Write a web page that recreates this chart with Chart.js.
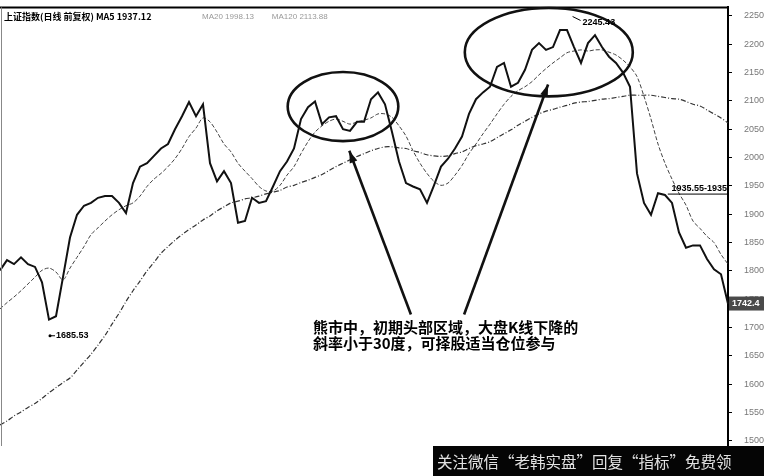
<!DOCTYPE html>
<html>
<head>
<meta charset="utf-8">
<style>
  html, body { margin: 0; padding: 0; background: #fff; }
  #wrap { width: 764px; height: 476px; }
</style>
<script src="https://cdn.jsdelivr.net/npm/chart.js@4/dist/chart.umd.min.js"></script>
</head>
<body>
<div id="wrap"><canvas id="kChart" width="764" height="476"></canvas></div>
<script>
// daily close of the index left to right
const closes = [
    1801, 1819, 1812, 1824, 1812, 1807, 1780, 1714, 1720, 1789,
    1859, 1899, 1915, 1920, 1929, 1932, 1932, 1920, 1902, 1955,
    1984, 1990, 2003, 2016, 2024, 2050, 2073, 2098, 2073, 2094,
    1990, 1958, 1976, 1955, 1885, 1888, 1929, 1920, 1923, 1949,
    1976, 1993, 2016, 2068, 2089, 2099, 2059, 2071, 2073, 2050,
    2047, 2063, 2063, 2103, 2115, 2094, 2045, 1993, 1955, 1949,
    1944, 1920, 1951, 1984, 1998, 2016, 2037, 2077, 2103, 2115,
    2125, 2160, 2167, 2125, 2132, 2155, 2190, 2202, 2190, 2195,
    2225, 2225, 2195, 2167, 2202, 2216, 2195, 2178, 2167, 2150,
    2125, 1972, 1920, 1899, 1937, 1934, 1920, 1868, 1841, 1845,
    1845, 1821, 1803, 1794, 1742
];
const ma20 = [
    1733, 1744, 1754, 1765, 1777, 1789, 1801, 1805, 1798, 1784,
    1805, 1824, 1843, 1864, 1876, 1888, 1899, 1908, 1915, 1920,
    1932, 1949, 1962, 1972, 1984, 1998, 2016, 2037, 2052, 2070,
    2063, 2045, 2024, 2010, 1990, 1976, 1963, 1949, 1941, 1941,
    1951, 1969, 1984, 2007, 2028, 2045, 2056, 2064, 2068, 2064,
    2059, 2063, 2066, 2070, 2077, 2077, 2071, 2056, 2038, 2012,
    1990, 1972, 1958, 1951, 1955, 1969, 1986, 2007, 2024, 2042,
    2059, 2077, 2094, 2108, 2118, 2125, 2134, 2146, 2157, 2167,
    2176, 2185, 2188, 2190, 2188, 2190, 2190, 2186, 2181, 2172,
    2160, 2143, 2108, 2068, 2024, 1990, 1962, 1937, 1916, 1888,
    1875, 1861, 1850, 1829, 1812
];
const ma120 = [
    1528, 1535, 1544, 1551, 1559, 1566, 1575, 1585, 1594, 1603,
    1611, 1625, 1639, 1653, 1669, 1686, 1706, 1725, 1746, 1765,
    1782, 1800, 1815, 1831, 1843, 1854, 1864, 1873, 1881, 1890,
    1897, 1906, 1913, 1920, 1923, 1927, 1929, 1932, 1936, 1939,
    1942, 1948, 1951, 1956, 1960, 1965, 1970, 1977, 1984, 1990,
    1996, 2002, 2007, 2012, 2016, 2019, 2019, 2017, 2016, 2012,
    2009, 2005, 2003, 2002, 2003, 2007, 2010, 2016, 2021, 2024,
    2028, 2035, 2042, 2049, 2057, 2064, 2071, 2077, 2082, 2085,
    2089, 2092, 2096, 2098, 2099, 2101, 2103, 2104, 2106, 2108,
    2110, 2110, 2110, 2110, 2108, 2106, 2104, 2103, 2099, 2094,
    2091, 2084, 2077, 2070, 2061
];
const yTicks = [1500, 1550, 1600, 1650, 1700, 1750, 1800, 1850, 1900, 1950, 2000, 2050, 2100, 2150, 2200, 2250];

const lowMark = 1685.53;
const highMark = 2245.43;
const levelMark = 1935.55;
const lastPrice = 1742.4;

const headerMain = '上证指数(日线 前复权) MA5 1937.12';
const headerMa = 'MA20 1998.13        MA120 2113.88';
const noteLines = ['熊市中，初期头部区域，大盘K线下降的', '斜率小于30度，可择股适当仓位参与'];
const watermark = '关注微信“老韩实盘”回复“指标”免费领';

// circled head areas and arrows, in (day index, price) units
const rings = [
    { i: 49, v: 2090, ri: 7.9, rv: 61 },
    { i: 78.4, v: 2186, ri: 12, rv: 78 }
];
const pointers = [
    { from: [58.7, 1723], to: [49.9, 2012] },
    { from: [66.3, 1723], to: [78.3, 2129] }
];
const noteAt = [44.7, 1700];

const labels = closes.map((c, i) => i);

function arrow(ctx, x1, y1, x2, y2) {
    ctx.beginPath();
    ctx.moveTo(x1, y1);
    ctx.lineTo(x2, y2);
    ctx.stroke();
    const a = Math.atan2(y2 - y1, x2 - x1);
    ctx.beginPath();
    ctx.moveTo(x2, y2);
    ctx.lineTo(x2 - 12 * Math.cos(a) + 4 * Math.sin(a), y2 - 12 * Math.sin(a) - 4 * Math.cos(a));
    ctx.lineTo(x2 - 12 * Math.cos(a) - 4 * Math.sin(a), y2 - 12 * Math.sin(a) + 4 * Math.cos(a));
    ctx.closePath();
    ctx.fill();
}

const marks = {
    id: 'marks',
    afterDraw(chart) {
        const ctx = chart.ctx;
        const xs = chart.scales.x, ys = chart.scales.y;
        const area = chart.chartArea;
        ctx.save();

        // frame
        ctx.strokeStyle = '#000';
        ctx.lineWidth = 2;
        ctx.beginPath();
        ctx.moveTo(0, area.top);
        ctx.lineTo(area.right, area.top);
        ctx.stroke();
        ctx.lineWidth = 1;
        ctx.strokeStyle = '#888';
        ctx.beginPath();
        ctx.moveTo(1.5, area.top);
        ctx.lineTo(1.5, area.bottom);
        ctx.stroke();

        // header
        ctx.textBaseline = 'middle';
        ctx.textAlign = 'left';
        ctx.fillStyle = '#000';
        ctx.font = 'bold 9px "Noto Sans CJK SC", sans-serif';
        ctx.fillText(headerMain, 4, area.top + 9);
        ctx.fillStyle = '#999';
        ctx.font = '8px "Liberation Sans", sans-serif';
        ctx.fillText(headerMa, 202, area.top + 9);

        // rings and arrows
        ctx.strokeStyle = '#111';
        ctx.fillStyle = '#111';
        ctx.lineWidth = 2.6;
        rings.forEach(r => {
            const cx = xs.getPixelForValue(r.i), cy = ys.getPixelForValue(r.v);
            const rx = xs.getPixelForValue(r.i + r.ri) - cx;
            const ry = cy - ys.getPixelForValue(r.v + r.rv);
            ctx.beginPath();
            ctx.ellipse(cx, cy, rx, ry, 0, 0, Math.PI * 2);
            ctx.stroke();
        });
        pointers.forEach(p => {
            arrow(ctx,
                xs.getPixelForValue(p.from[0]), ys.getPixelForValue(p.from[1]),
                xs.getPixelForValue(p.to[0]), ys.getPixelForValue(p.to[1]));
        });

        // note text
        ctx.fillStyle = '#000';
        ctx.font = 'bold 15px "Noto Sans CJK SC", sans-serif';
        const nx = xs.getPixelForValue(noteAt[0]), ny = ys.getPixelForValue(noteAt[1]);
        noteLines.forEach((t, k) => ctx.fillText(t, nx, ny + k * 16));

        // low / high / level labels
        ctx.font = 'bold 9px "Liberation Sans", sans-serif';
        ctx.lineWidth = 1;
        ctx.strokeStyle = '#000';
        const lowI = closes.indexOf(Math.min(...closes));
        const lx = xs.getPixelForValue(lowI), ly = ys.getPixelForValue(lowMark);
        ctx.beginPath();
        ctx.arc(lx + 1, ly, 1.5, 0, Math.PI * 2);
        ctx.fill();
        ctx.beginPath();
        ctx.moveTo(lx + 1, ly);
        ctx.lineTo(lx + 6, ly);
        ctx.stroke();
        ctx.fillText(lowMark.toFixed(2), lx + 7, ly);

        const highI = closes.indexOf(Math.max(...closes));
        const hx = xs.getPixelForValue(highI + 1.8), hy = ys.getPixelForValue(highMark);
        ctx.beginPath();
        ctx.moveTo(hx, hy - 2);
        ctx.lineTo(hx + 8, hy + 2);
        ctx.stroke();
        ctx.fillText(highMark.toFixed(2), hx + 10, hy + 4);

        const gy = ys.getPixelForValue(levelMark);
        ctx.beginPath();
        ctx.moveTo(xs.getPixelForValue(95.4), gy);
        ctx.lineTo(area.right, gy);
        ctx.stroke();
        ctx.textAlign = 'right';
        ctx.font = 'bold 9px "Liberation Sans Narrow", "Liberation Sans", sans-serif';
        ctx.fillText(levelMark.toFixed(2) + '-1935', area.right - 1, gy - 6);

        // last price box on the axis
        const py = ys.getPixelForValue(lastPrice);
        ctx.fillStyle = '#4a4a4a';
        ctx.fillRect(area.right + 1, py - 7, chart.width - area.right - 1, 14);
        ctx.fillStyle = '#fff';
        ctx.textAlign = 'left';
        ctx.font = 'bold 9px "Liberation Sans", sans-serif';
        ctx.fillText(lastPrice.toFixed(1), area.right + 4, py);

        // watermark band
        ctx.fillStyle = '#050505';
        ctx.fillRect(433, area.bottom, chart.width - 433, chart.height - area.bottom);
        ctx.fillStyle = '#e2e2e2';
        ctx.font = '15.5px "Noto Sans CJK SC", sans-serif';
        ctx.fillText(watermark, 437, area.bottom + 16);

        ctx.restore();
    }
};

const ctx = document.getElementById('kChart').getContext('2d');
const kChart = new Chart(ctx, {
    type: 'line',
    data: {
        labels: labels,
        datasets: [{
            label: 'close',
            data: closes,
            borderColor: '#111',
            borderWidth: 2,
            pointRadius: 0,
            tension: 0
        }, {
            label: 'MA20',
            data: ma20,
            borderColor: '#444',
            borderWidth: 1,
            borderDash: [4, 2],
            pointRadius: 0,
            tension: 0.3
        }, {
            label: 'MA120',
            data: ma120,
            borderColor: '#333',
            borderWidth: 1.2,
            borderDash: [5, 2, 1, 2],
            pointRadius: 0,
            tension: 0.3
        }]
    },
    options: {
        responsive: false,
        animation: false,
        devicePixelRatio: 1,
        layout: { padding: { top: 2, bottom: 30, left: 0, right: 0 } },
        plugins: {
            legend: { display: false },
            tooltip: { enabled: false }
        },
        scales: {
            x: {
                type: 'category',
                display: false,
                offset: false
            },
            y: {
                position: 'right',
                min: 1491,
                max: 2265,
                afterBuildTicks: (scale) => {
                    scale.ticks = yTicks.map(v => ({ value: v }));
                },
                afterFit: (scale) => {
                    scale.width = 36;
                },
                grid: {
                    drawOnChartArea: false,
                    tickLength: 4,
                    color: '#000'
                },
                border: { color: '#000', width: 2 },
                ticks: {
                    color: '#777',
                    padding: 2,
                    crossAlign: 'far',
                    font: { family: 'Liberation Sans', size: 9 },
                    callback: (v) => String(v)
                }
            }
        }
    },
    plugins: [marks]
});
</script>
</body>
</html>
